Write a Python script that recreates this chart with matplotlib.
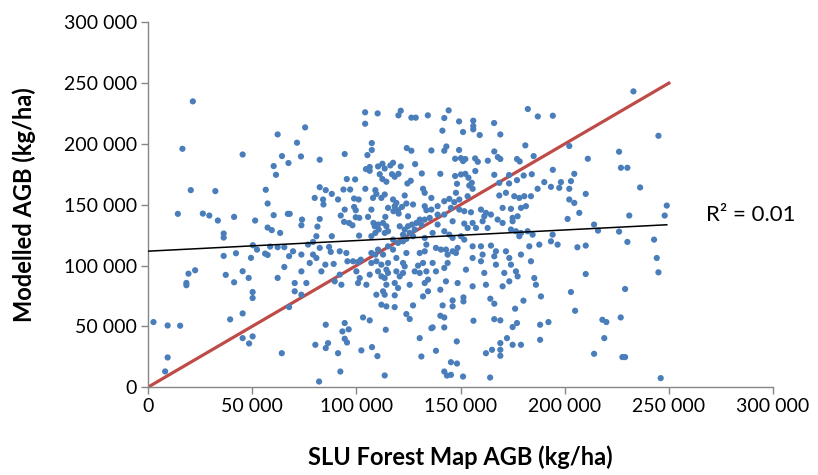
import matplotlib

matplotlib.use("Agg")
import matplotlib.pyplot as plt
import numpy as np
from matplotlib.ticker import FuncFormatter, MultipleLocator

# Plot-level AGB (thousand kg/ha): SLU Forest Map vs modelled
slu_agb = [
    21.5, 62.2, 16.5, 45.4, 64.3, 67.4, 60.3, 61.4,
    104.2, 110.2, 121.3, 120.2, 126.4, 128.5, 134.3, 104.2, 75.4, 71.5, 73.4, 82.4,
    94.4, 107.4, 107.4, 105.3, 124.2, 126.4, 136.0, 128.2, 104.6, 106.4, 106.4, 110.4,
    112.5, 113.6, 116.3, 117.6, 121.3, 111.2, 112.5, 114.4, 117.1, 118.4, 120.2, 131.4,
    126.1, 124.5, 95.4, 99.4,
    144.3, 142.2, 149.3, 156.1, 156.1, 156.1, 166.1, 182.3, 187.1, 194.3, 141.3, 151.2,
    159.2, 169.1, 143.2, 142.2, 149.3, 166.2, 181.1, 202.2, 147.4, 150.2, 151.2, 152.3,
    157.0, 158.3, 163.1, 167.9, 169.1, 177.1, 178.4, 185.1, 140.3, 147.4, 150.2, 152.3,
    153.8, 157.1, 166.2, 173.3, 180.3, 184.2, 194.3, 177.1, 148.3, 155.4, 168.6, 173.3,
    190.2, 198.2, 203.0, 204.6,
    233.0, 245.0, 211.1, 226.1, 227.0, 230.1,
    20.5, 32.3, 56.5, 57.4, 14.3, 26.3, 29.4, 33.5, 41.3, 51.4, 60.3, 67.1, 57.4, 59.4,
    63.4, 36.3, 36.3, 50.3, 52.3, 58.6, 62.2, 65.4, 56.2, 57.4, 36.3, 42.2, 49.4, 67.7,
    65.4, 19.4, 22.6, 37.3, 45.4, 48.3, 41.3, 62.2, 18.4, 18.4,
    82.4, 85.3, 88.2, 93.8, 97.0, 104.3, 109.1, 109.6, 132.0, 132.8, 80.0, 84.0,
    84.2, 91.2, 98.9, 101.1, 108.0, 112.0, 113.6, 117.6, 119.2, 123.2, 124.0, 127.2,
    132.8, 136.0, 94.4, 98.9, 99.7, 107.2, 115.2, 118.4, 120.0, 121.9, 117.8, 120.3,
    133.6, 136.0, 68.0, 73.9, 82.4, 92.5, 99.7, 101.4, 105.6, 113.9, 124.8, 130.4,
    132.8, 135.2, 73.6, 81.3, 94.1, 96.5, 98.1, 108.2, 110.4, 108.8, 112.8, 114.4,
    110.7, 109.1, 113.6, 115.2, 120.8, 123.2, 124.8, 126.7, 128.8, 128.0, 125.6, 131.2,
    80.8, 88.2, 101.3, 107.2, 122.4, 117.6, 120.0, 122.4, 124.0, 127.2, 132.8, 76.8,
    79.2, 82.4, 86.9, 87.7, 69.6, 73.6, 79.2, 80.8, 92.0, 95.2, 98.4, 102.1,
    107.2, 110.4, 109.1, 112.8, 115.2, 117.6, 119.2, 124.0, 130.4, 132.8, 133.6, 77.6,
    85.1, 89.1, 95.7, 100.8, 107.2, 109.6, 112.0, 115.2, 114.4, 122.4, 123.2, 129.6,
    132.0, 128.0, 73.6, 83.2, 92.0, 100.0, 101.6, 106.4, 110.4, 112.0, 115.2, 119.2,
    120.8, 122.4, 130.4, 133.6, 134.4, 70.4, 76.0, 89.6, 92.8, 100.8, 104.8, 113.6,
    114.4, 118.4, 120.0, 125.6, 132.8,
    154.2, 155.8, 187.0, 193.4, 197.4, 202.2, 147.8, 153.4, 168.6, 171.8, 175.8, 178.2,
    180.6, 183.8, 202.2, 204.6, 139.0, 142.2, 144.6, 147.0, 149.4, 145.4, 149.4, 151.8,
    155.0, 159.8, 162.2, 161.4, 164.6, 170.2, 174.2, 179.0, 181.4, 139.0, 142.2,
    139.0, 146.2, 151.8, 155.8, 153.4, 157.4, 160.6, 163.0, 167.8, 170.2, 175.0, 177.4,
    175.0, 174.2, 176.6, 179.0, 182.2, 178.2, 184.6, 194.2, 201.4, 136.6, 142.2, 144.6,
    146.2, 150.2, 151.8, 148.6, 138.2, 140.6, 143.0, 143.8, 146.2, 147.8, 155.8, 159.8,
    164.6, 167.0, 171.8, 179.0, 183.0, 187.8, 193.4, 196.6, 136.6, 143.8, 155.8, 160.6,
    159.8, 166.2, 167.0, 173.4, 174.2, 183.8, 138.2, 142.2, 152.6, 161.4, 171.0, 176.6,
    177.4, 143.0, 148.6, 155.8, 162.2, 170.2, 173.4, 185.4, 186.2,
    236.2, 210.1, 207.0, 249.0, 248.0, 231.0, 214.1, 216.0, 226.1, 230.1, 242.9, 206.1,
    210.1, 244.2, 210.1, 245.0, 229.0,
    50.2, 50.2, 45.4, 39.4, 2.6, 9.4, 15.4, 45.4, 50.2, 48.5, 9.4, 8.2, 64.2, 67.7,
    70.4, 73.6, 109.6, 112.8, 113.6, 118.4, 134.4, 132.0, 112.0, 114.4, 118.4, 127.2,
    124.0, 125.6, 85.3, 94.4, 96.3, 93.3, 103.2, 106.4, 114.1, 94.4, 95.5, 86.4,
    85.3, 80.3, 91.2, 102.4, 107.5, 110.1, 130.4, 131.2, 136.0, 92.3, 82.1, 113.6,
    140.3, 188.6, 203.0, 146.2, 151.4, 151.4, 164.3, 166.2, 141.4, 146.2, 180.2, 176.2,
    140.3, 142.2, 136.6, 142.2, 156.2, 166.2, 169.1, 175.0, 177.1, 188.2, 192.2, 188.2,
    148.2, 172.3, 169.1, 169.1, 169.1, 175.0, 179.0, 165.1, 162.2, 138.2, 145.4, 148.3,
    142.2, 143.5, 145.4, 151.2, 164.2, 205.0,
    218.1, 220.0, 226.9, 219.0, 214.1, 227.7, 229.0, 246.1,
]
modelled_agb = [
    235.0, 207.8, 196.0, 191.3, 190.0, 184.3, 181.8, 174.6,
    226.0, 225.1, 227.3, 223.5, 221.6, 221.6, 223.5, 216.6, 213.6, 201.0, 189.7, 187.0,
    191.7, 200.7, 195.0, 190.8, 196.6, 194.4, 194.6, 183.4, 179.3, 181.0, 177.9, 181.5,
    183.7, 179.8, 182.3, 184.5, 181.5, 175.1, 171.1, 168.9, 175.1, 173.0, 175.4, 175.7,
    169.7, 167.5, 171.1, 170.8,
    227.6, 221.3, 218.5, 219.1, 214.7, 212.0, 217.2, 228.7, 222.6, 223.2, 210.9, 209.8,
    207.3, 207.8, 197.9, 194.4, 195.0, 193.8, 198.8, 198.3, 187.8, 188.3, 185.9, 187.6,
    188.1, 185.3, 186.2, 189.2, 187.6, 187.6, 185.6, 190.0, 175.4, 173.6, 174.9, 175.4,
    172.2, 177.7, 174.6, 174.4, 174.0, 175.1, 178.7, 170.2, 167.2, 168.0, 168.0, 167.5,
    168.6, 168.6, 169.4, 175.4,
    243.2, 206.7, 187.8, 193.6, 180.4, 180.4,
    162.0, 161.2, 162.3, 151.0, 142.5, 142.7, 141.1, 137.0, 140.0, 137.0, 141.4, 142.5,
    131.2, 129.1, 126.8, 126.3, 123.0, 116.7, 113.1, 115.6, 115.1, 115.1, 109.8, 108.7,
    107.9, 110.1, 106.3, 107.7, 98.8, 93.3, 96.1, 92.3, 95.3, 89.8, 86.2, 89.8, 85.7,
    83.8,
    164.4, 162.0, 158.9, 162.5, 162.5, 163.1, 162.0, 158.9, 163.1, 159.8, 155.6, 154.3,
    150.2, 154.3, 155.1, 154.3, 155.6, 155.6, 158.4, 154.3, 151.5, 157.6, 151.0, 150.2,
    148.8, 155.6, 146.0, 148.2, 145.5, 146.0, 147.4, 148.8, 145.5, 148.2, 144.7, 142.7,
    145.5, 146.0, 142.5, 137.8, 138.3, 141.1, 139.7, 139.2, 140.0, 140.0, 140.5, 137.8,
    137.8, 139.2, 133.1, 132.0, 135.9, 135.0, 133.1, 135.0, 133.7, 132.3, 135.0, 132.3,
    129.6, 126.8, 126.8, 128.2, 132.3, 129.6, 132.3, 133.7, 135.0, 129.6, 126.8, 133.7,
    124.1, 124.1, 124.6, 124.1, 125.4, 121.3, 118.6, 119.9, 121.9, 124.1, 122.7, 117.2,
    119.4, 114.5, 115.3, 111.2, 111.7, 109.0, 109.0, 106.2, 111.7, 110.3, 103.5, 104.8,
    110.3, 113.1, 109.0, 109.0, 115.8, 113.1, 106.2, 110.3, 110.3, 111.7, 117.2, 102.1,
    100.7, 101.3, 103.5, 102.9, 102.1, 103.5, 100.7, 102.1, 96.6, 102.1, 99.3, 99.9,
    102.1, 95.2, 95.2, 95.2, 92.5, 95.2, 89.7, 92.5, 95.2, 91.1, 93.9, 95.2,
    91.1, 93.9, 93.9, 95.2, 88.4, 85.6, 85.6, 87.0, 84.2, 85.6, 84.2, 89.7,
    84.2, 85.6, 81.5, 84.2, 85.6,
    165.8, 163.1, 163.1, 164.7, 163.9, 163.1, 159.8, 157.0, 157.6, 159.8, 157.0, 155.6,
    157.0, 157.0, 154.3, 151.5, 148.8, 152.9, 154.8, 152.1, 154.3, 147.4, 146.0, 144.7,
    143.8, 146.0, 143.3, 140.5, 141.9, 147.4, 146.6, 147.4, 148.8, 141.9, 141.9,
    133.7, 136.4, 134.5, 135.0, 130.9, 130.9, 136.4, 130.9, 137.8, 135.0, 139.2, 140.5,
    136.4, 129.6, 128.2, 126.8, 128.2, 124.1, 125.4, 125.4, 138.3, 126.8, 128.2, 125.4,
    122.7, 124.1, 121.3, 114.5, 114.5, 113.1, 113.1, 109.0, 111.7, 110.3, 115.8, 115.8,
    116.4, 111.7, 111.7, 109.0, 115.8, 117.2, 119.9, 117.2, 102.1, 102.1, 106.2, 109.0,
    103.5, 107.6, 100.7, 106.2, 100.7, 103.5, 95.2, 98.0, 96.6, 93.9, 93.9, 95.2,
    91.1, 87.0, 85.6, 82.9, 84.2, 82.9, 87.0, 89.7, 84.2,
    164.2, 158.9, 143.3, 149.3, 141.1, 141.1, 133.7, 128.7, 127.9, 119.4, 121.3, 115.0,
    116.4, 106.2, 93.0, 94.4, 80.7,
    78.2, 73.3, 60.6, 55.7, 53.5, 50.7, 50.5, 40.3, 41.7, 35.9, 24.4, 12.9, 27.9, 65.8,
    78.8, 76.0, 76.0, 78.8, 76.0, 75.5, 78.8, 74.6, 67.8, 66.4, 65.8, 67.2,
    60.1, 56.0, 51.3, 52.7, 47.5, 45.8, 57.3, 54.9, 47.2, 39.8, 36.7, 36.2,
    32.1, 34.8, 27.9, 30.2, 32.9, 25.5, 40.3, 25.2, 48.5, 12.8, 4.6, 9.6,
    80.1, 74.6, 78.2, 71.3, 73.8, 70.5, 72.7, 68.6, 67.2, 66.4, 71.1, 64.5,
    58.7, 57.3, 49.1, 49.1, 54.6, 55.9, 54.9, 49.4, 52.7, 51.3, 53.5, 38.9,
    37.6, 40.3, 36.2, 30.7, 25.8, 34.8, 34.8, 30.7, 27.9, 29.9, 20.5, 19.4,
    12.8, 9.5, 10.1, 8.7, 7.9, 62.8,
    55.4, 53.5, 57.3, 40.3, 27.4, 24.7, 24.7, 7.4,
]

# 1:1 reference line end points (kg/ha)
one_to_one = [0, 250_000]

x = np.array(slu_agb) * 1000
y = np.array(modelled_agb) * 1000

# Linear trend and coefficient of determination
slope, intercept = np.polyfit(x, y, 1)
r2 = np.corrcoef(x, y)[0, 1] ** 2

plt.rcParams["font.family"] = ["Lato", "DejaVu Sans"]

fig = plt.figure(figsize=(8.18, 4.75), dpi=100)
ax = fig.add_axes([0.181, 0.185, 0.764, 0.768])

ax.scatter(x, y, s=20, color="#4A7EBB", edgecolors="none", zorder=3)
ax.plot(one_to_one, one_to_one, color="#BE4B48", linewidth=2.3, zorder=2)

trend_x = np.array([0, x.max()])
ax.plot(trend_x, intercept + slope * trend_x, color="black", linewidth=1.1, zorder=4)
ax.text(268_000, 141_500, f"R² = {r2:.2f}", ha="left", va="center", fontsize=16)

ax.set_xlim(0, 300_000)
ax.set_ylim(0, 300_000)
ax.xaxis.set_major_locator(MultipleLocator(50_000))
ax.yaxis.set_major_locator(MultipleLocator(50_000))
fmt = FuncFormatter(lambda v, _: f"{int(v):,}".replace(",", " "))
ax.xaxis.set_major_formatter(fmt)
ax.yaxis.set_major_formatter(fmt)

for side in ("top", "right"):
    ax.spines[side].set_visible(False)
for side in ("left", "bottom"):
    ax.spines[side].set_color("#868686")
    ax.spines[side].set_linewidth(1.0)
ax.tick_params(axis="both", direction="out", length=5, width=1.0, color="#868686",
               labelsize=14, pad=3)

ax.set_xlabel("SLU Forest Map AGB (kg/ha)", fontsize=17, fontweight="bold", labelpad=22)
ax.set_ylabel("Modelled AGB (kg/ha)", fontsize=17, fontweight="bold", labelpad=20)

fig.savefig("out.png", dpi=100)
